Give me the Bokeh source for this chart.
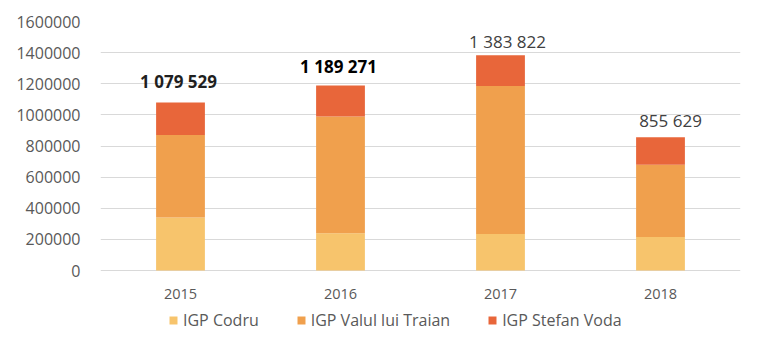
from bokeh.plotting import figure
from bokeh.models import ColumnDataSource, FixedTicker, BasicTickFormatter, Legend, LegendItem
from bokeh.core.properties import value
from bokeh.embed import file_html
from bokeh.resources import INLINE

years = ["2015", "2016", "2017", "2018"]
series = ["IGP Codru", "IGP Valul lui Traian", "IGP Stefan Voda"]
codru = [340000, 240000, 235000, 215000]
valul = [530000, 750000, 950000, 465000]
stefan = [209529, 199271, 198822, 175629]
totals = [1079529, 1189271, 1383822, 855629]
y_ticks = [0, 200000, 400000, 600000, 800000, 1000000, 1200000, 1400000, 1600000]

colors = ["#F7C46C", "#F0A04D", "#E8663A"]
# per-label styling (weight, colour, pixel nudges)
label_styles = [("bold", "#1f1f1f", -2, -21), ("bold", "#000000", -2, -19),
                ("normal", "#404040", 7, -14), ("normal", "#404040", 10, -17)]

# plot frame: 249 px for 0..1.6M, frame extended 67 px below zero for the legend
Y_TOP = 1600000
Y_BOTTOM = -Y_TOP * 67 / 249


def fmt(t):
    return f"{t:,}".replace(",", " ")


src = ColumnDataSource(dict(years=years, codru=codru, valul=valul, stefan=stefan))

p = figure(x_range=years, y_range=(Y_BOTTOM, Y_TOP), width=753, height=341,
           output_backend="svg", toolbar_location=None,
           min_border_left=100, min_border_right=13, min_border_top=21, min_border_bottom=4)
p.outline_line_color = None
p.background_fill_color = "white"
p.border_fill_color = "white"

rs = p.vbar_stack(["codru", "valul", "stefan"], x="years", width=0.305, color=colors,
                  line_color=None, source=src)

for yr, tot, (wt, col, dx, dy) in zip(years, totals, label_styles):
    ls = ColumnDataSource(dict(x=[yr], y=[tot], t=[fmt(tot)]))
    p.text(x="x", y="y", text="t", source=ls, text_align="center",
           text_baseline="middle", x_offset=dx, y_offset=dy,
           text_font=value("Open Sans"), text_font_size="17px",
           text_font_style=wt, text_color=col)

# category labels under the bars
cat = ColumnDataSource(dict(x=years, y=[0] * len(years), t=years))
p.text(x="x", y="y", text="t", source=cat, text_align="center", text_baseline="middle",
       y_offset=23, text_font=value("Open Sans"), text_font_size="14.5px",
       text_color="#595959")

p.x_range.range_padding = 0.0
p.x_range.factor_padding = 0.0
p.xaxis.visible = False

p.yaxis.ticker = FixedTicker(ticks=y_ticks)
p.yaxis.formatter = BasicTickFormatter(use_scientific=False)
ax = p.yaxis[0]
ax.axis_line_color = None
ax.major_tick_line_color = None
ax.minor_tick_line_color = None
ax.major_label_text_font = "Open Sans"
ax.major_label_text_color = "#595959"
ax.major_label_text_font_size = "16px"
ax.major_label_standoff = 14

p.xgrid.grid_line_color = None
p.ygrid.grid_line_color = "#D9D9D9"
p.ygrid.grid_line_width = 1

items = [LegendItem(label=s, renderers=[r]) for s, r in zip(series, rs)]
legend = Legend(items=items, orientation="horizontal", location=(68, 6),
                padding=0, margin=0, spacing=37, glyph_width=10, glyph_height=10,
                label_standoff=5, border_line_color=None, background_fill_alpha=0,
                label_text_font="Open Sans", label_text_font_size="16px",
                label_text_color="#595959")
p.add_layout(legend, "center")

open("out.html", "w").write(file_html(p, INLINE))
